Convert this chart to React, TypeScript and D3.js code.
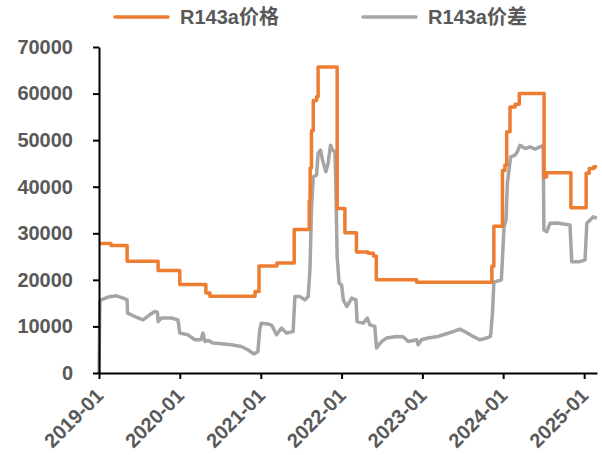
import React, { useEffect, useRef } from "react";
import * as d3 from "d3";

const priceDates = [
  "2019-01-01","2019-02-24","2019-05-08","2019-09-25","2020-01-01","2020-04-28","2020-05-16",
  "2020-12-06","2020-12-24","2021-03-15","2021-06-01","2021-08-08","2021-08-12","2021-08-18",
  "2021-08-26","2021-09-10","2021-09-17","2021-12-12","2022-01-16","2022-03-09","2022-05-01",
  "2022-05-25","2022-06-07","2022-12-06","2023-11-11","2023-11-20","2023-12-29","2024-01-09",
  "2024-01-17","2024-02-01","2024-02-24","2024-03-14","2024-07-04","2024-07-15","2024-11-02",
  "2025-01-10","2025-01-24","2025-02-13","2025-02-28"
];
const priceValues = [
  27800,27400,24000,22000,19000,17200,16500,
  17500,23000,23600,30800,37000,44000,52000,
  58500,59300,65700,35300,30100,26000,25700,
  25100,20000,19500,22900,31500,43500,44600,
  51800,57100,57700,60000,42100,43000,35500,
  42900,43900,44300,44300
];

const spreadDates = [
  "2019-01-01","2019-01-05","2019-01-10","2019-02-11","2019-03-21","2019-04-20","2019-05-08","2019-05-10",
  "2019-06-12","2019-07-19","2019-08-18","2019-09-10","2019-09-22","2019-09-25","2019-10-10","2019-11-24",
  "2019-12-24","2020-01-01","2020-02-07","2020-03-09","2020-04-05","2020-04-15","2020-04-23","2020-05-08",
  "2020-05-30","2020-07-07","2020-08-21","2020-10-05","2020-11-04","2020-12-01","2020-12-19","2020-12-27",
  "2021-01-03","2021-02-04","2021-02-20","2021-03-13","2021-04-05","2021-04-27","2021-05-27","2021-06-04",
  "2021-06-27","2021-07-19","2021-08-03","2021-08-11","2021-08-18","2021-08-26","2021-09-10","2021-09-17",
  "2021-09-28","2021-10-07","2021-10-22","2021-11-01","2021-11-12","2021-11-21","2021-12-02","2021-12-06",
  "2021-12-12","2021-12-21","2022-01-01","2022-01-09","2022-01-24","2022-02-16","2022-03-07","2022-03-12",
  "2022-04-09","2022-04-27","2022-05-09","2022-05-31","2022-06-08","2022-07-01","2022-07-23","2022-09-06",
  "2022-10-06","2022-10-29","2022-12-06","2022-12-13","2022-12-28","2023-01-27","2023-03-13","2023-04-20",
  "2023-05-20","2023-06-19","2023-07-19","2023-08-18","2023-09-17","2023-10-18","2023-11-05","2023-11-14",
  "2023-11-20","2023-12-24","2024-01-05","2024-01-14","2024-01-20","2024-01-29","2024-02-04","2024-02-24",
  "2024-03-05","2024-03-17","2024-04-09","2024-05-01","2024-05-24","2024-06-23","2024-06-30","2024-07-03",
  "2024-07-16","2024-07-31","2024-08-30","2024-09-29","2024-10-29","2024-11-06","2024-12-13","2025-01-05",
  "2025-01-13","2025-01-28","2025-02-12","2025-02-27"
];
const spreadValues = [
  0,15400,15700,16300,16570,16070,15700,12860,
  12130,11420,12500,13200,13000,11060,11800,11800,
  11400,8570,8200,7140,7140,8570,6770,7000,
  6430,6280,6070,5700,5000,4070,4630,9280,
  10700,10500,10200,8200,9640,8570,8900,16400,
  16400,15700,16400,22130,35000,42140,42500,47150,
  47850,45700,43200,45000,48900,47850,47500,40700,
  25000,19300,18900,15700,14270,16070,15700,11060,
  10700,11800,10350,10000,5360,6770,7500,7850,
  7780,6770,7140,6070,7140,7500,7850,8420,
  8900,9430,8700,7850,7140,7500,7850,13000,
  19500,20000,31400,32850,40700,44280,46400,46780,
  47500,48900,48200,48570,48070,48700,48900,30700,
  30350,32140,32200,32000,31780,23900,23900,24280,
  32140,32850,33560,33200
];

const yTicks = [0, 10000, 20000, 30000, 40000, 50000, 60000, 70000];
const xTickLabels = ["2019-01","2020-01","2021-01","2022-01","2023-01","2024-01","2025-01"];
const seriesNames = ["R143a价格", "R143a价差"];
const seriesColors = ["#ED7D31", "#A5A5A5"];

const FONT = "Arial, 'Liberation Sans', 'Noto Sans CJK SC', sans-serif";

export default function App() {
  const ref = useRef<SVGSVGElement>(null);

  useEffect(() => {
    const svg = d3.select(ref.current);
    svg.selectAll("*").remove();
    const parse = d3.timeParse("%Y-%m-%d");
    const parseM = d3.timeParse("%Y-%m");
    const left = 99, right = 597, top = 47, bottom = 373;

    const x = d3.scaleTime()
      .domain([parse("2019-01-01")!, parse("2025-02-28")!])
      .range([left, right]);
    const y = d3.scaleLinear().domain([0, 70000]).range([bottom, top]);

    const price = priceDates.map((d, i) => ({ d: parse(d)!, v: priceValues[i] }));
    const spread = spreadDates.map((d, i) => ({ d: parse(d)!, v: spreadValues[i] }));

    const lineStep = d3.line<{ d: Date; v: number }>()
      .x(p => x(p.d)).y(p => y(p.v)).curve(d3.curveStepAfter);
    const lineLin = d3.line<{ d: Date; v: number }>()
      .x(p => x(p.d)).y(p => y(p.v));

    svg.append("path").attr("d", lineLin(spread)!)
      .attr("fill", "none").attr("stroke", seriesColors[1]).attr("stroke-width", 3.5)
      .attr("stroke-linejoin", "round");
    svg.append("path").attr("d", lineStep(price)!)
      .attr("fill", "none").attr("stroke", seriesColors[0]).attr("stroke-width", 3.5)
      .attr("stroke-linejoin", "round");

    // Y axis
    const gy = svg.append("g").attr("transform", `translate(${left},0)`)
      .call(d3.axisLeft(y).tickValues(yTicks).tickSize(6).tickSizeOuter(0).tickPadding(20).tickFormat(d3.format("d")));
    gy.select(".domain").attr("stroke", "#000").attr("stroke-width", 2);
    gy.selectAll(".tick line").attr("stroke", "#000").attr("stroke-width", 2);
    gy.selectAll(".tick text").attr("fill", "#595959").attr("font-size", 20)
      .attr("font-weight", "bold").attr("font-family", FONT);

    // X axis
    const xTicks = xTickLabels.map(s => parseM(s)!);
    const gx = svg.append("g").attr("transform", `translate(0,${bottom})`)
      .call(d3.axisBottom(x).tickValues(xTicks).tickSize(6).tickSizeOuter(0).tickFormat(d3.timeFormat("%Y-%m") as any));
    gx.select(".domain").attr("stroke", "#000").attr("stroke-width", 2);
    gx.selectAll(".tick line").attr("stroke", "#000").attr("stroke-width", 2);
    gx.selectAll(".tick text")
      .attr("fill", "#595959").attr("font-size", 20).attr("font-weight", "bold")
      .attr("font-family", FONT)
      .attr("text-anchor", "end")
      .attr("dy", null)
      .attr("y", 0)
      .attr("transform", "translate(5,24) rotate(-45)");

    // Legend
    const lg = svg.append("g");
    const legendX = [115, 363];
    seriesNames.forEach((n, i) => {
      lg.append("line").attr("x1", legendX[i]).attr("x2", legendX[i] + 53)
        .attr("y1", 17).attr("y2", 17).attr("stroke", seriesColors[i]).attr("stroke-width", 3.5)
        .attr("stroke-linecap", "round");
      lg.append("text").attr("x", legendX[i] + 65).attr("y", 24).text(n)
        .attr("fill", "#595959").attr("font-size", 20).attr("font-weight", "bold")
        .attr("font-family", FONT);
    });
  }, []);

  return (
    <svg ref={ref} width={602} height={455}
      style={{ position: "absolute", left: 0, top: 0, background: "#fff" }} />
  );
}
